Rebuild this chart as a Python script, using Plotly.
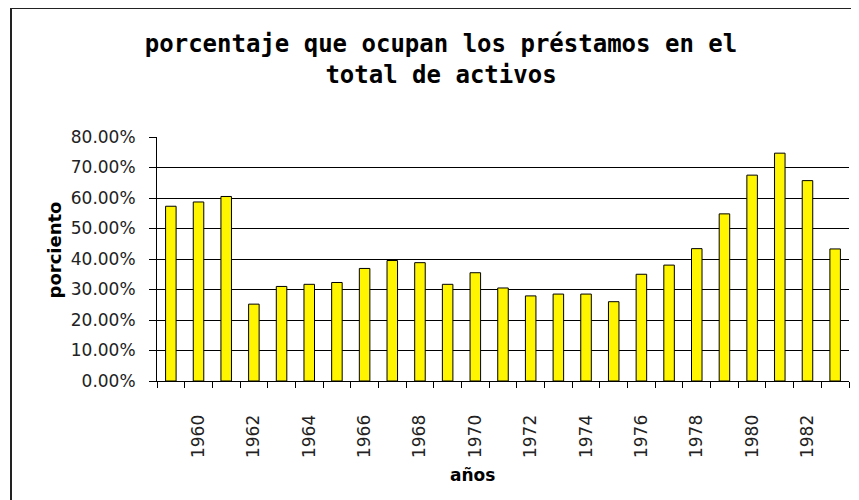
import plotly.graph_objects as go

years = list(range(1959, 1984))
loan_share = [0.573, 0.587, 0.605, 0.252, 0.310, 0.317, 0.323, 0.369, 0.395,
              0.388, 0.317, 0.355, 0.305, 0.279, 0.285, 0.285, 0.260, 0.350,
              0.380, 0.434, 0.548, 0.675, 0.747, 0.657, 0.433]
tick_labels = [str(y) if y % 2 == 0 else "" for y in years]
y_ticks = [0.0, 0.1, 0.2, 0.3, 0.4, 0.5, 0.6, 0.7, 0.8]
grid_vals = [0.1, 0.2, 0.3, 0.4, 0.5, 0.6, 0.7]

title_text = "porcentaje que ocupan los préstamos en el<br>total de activos"

# the page body has an 8px default margin, so the figure is sized to fit the window
W, H = 851, 492
L, R, T, B = 149, 10, 129, 119
PW, PH = W - L - R, H - T - B

fig = go.Figure()
# empty helper trace so the overlaid grid axis (y2) gets drawn
fig.add_trace(go.Scatter(x=[], y=[], yaxis="y2", hoverinfo="skip", showlegend=False))
fig.add_trace(go.Bar(
    x=[str(y) for y in years], y=loan_share,
    width=0.38,
    marker=dict(color="#FFF500", line=dict(color="black", width=1)),
    hoverinfo="x+y",
))

fig.update_layout(
    width=W, height=H,
    margin=dict(l=L, r=R, t=T, b=B, autoexpand=False),
    paper_bgcolor="white", plot_bgcolor="white",
    showlegend=False,
    title=dict(text=title_text, x=433/W, xanchor="center", xref="container",
               y=1 - 44/H, yanchor="top", yref="container",
               font=dict(family="DejaVu Sans Mono", size=24, color="black", weight="bold")),
    font=dict(family="DejaVu Sans", color="#222"),
    yaxis=dict(range=[0, 0.8], tickmode="array", tickvals=y_ticks, tickformat=".2%",
               ticks="outside", ticklen=7, tickcolor="black",
               tickfont=dict(size=17, family="DejaVu Sans", color="#222"),
               ticklabelstandoff=10, showline=True, linecolor="black", linewidth=1,
               showgrid=False, zeroline=False),
    yaxis2=dict(overlaying="y", matches="y", range=[0, 0.8], side="left",
                tickmode="array", tickvals=grid_vals, showticklabels=False, ticks="",
                showgrid=True, gridcolor="black", gridwidth=1, showline=False,
                zeroline=False),
)

fig.update_xaxes(
    type="category",
    categoryorder="array", categoryarray=[str(y) for y in years],
    tickmode="array", tickvals=[str(y) for y in years], ticktext=tick_labels,
    tickson="boundaries", ticks="outside", ticklen=6, tickcolor="black", tickwidth=1,
    tickangle=-90, tickfont=dict(size=17, family="DejaVu Sans", color="#222"),
    ticklabelstandoff=26,
    showline=True, linecolor="black", linewidth=1,
    showgrid=False,
)

# axis titles placed as in the original
fig.add_annotation(text="años", xref="paper", yref="paper",
                   x=(472 - 157) / PW, y=(381 - 487) / PH, showarrow=False,
                   font=dict(size=17, family="DejaVu Sans", weight="bold", color="black"))
fig.add_annotation(text="porciento", xref="paper", yref="paper", textangle=-90,
                   x=(41 - 157) / PW, y=(381 - 250) / PH, showarrow=False,
                   font=dict(size=18, family="DejaVu Sans", weight="bold", color="black"))

fig.add_shape(type="rect", xref="paper", yref="paper",
              x0=(11 - 157) / PW, x1=1.2, y0=-0.7, y1=(381 - 8) / PH,
              line=dict(color="#222", width=2), fillcolor="rgba(0,0,0,0)", layer="below")

fig.write_html("out.html")
